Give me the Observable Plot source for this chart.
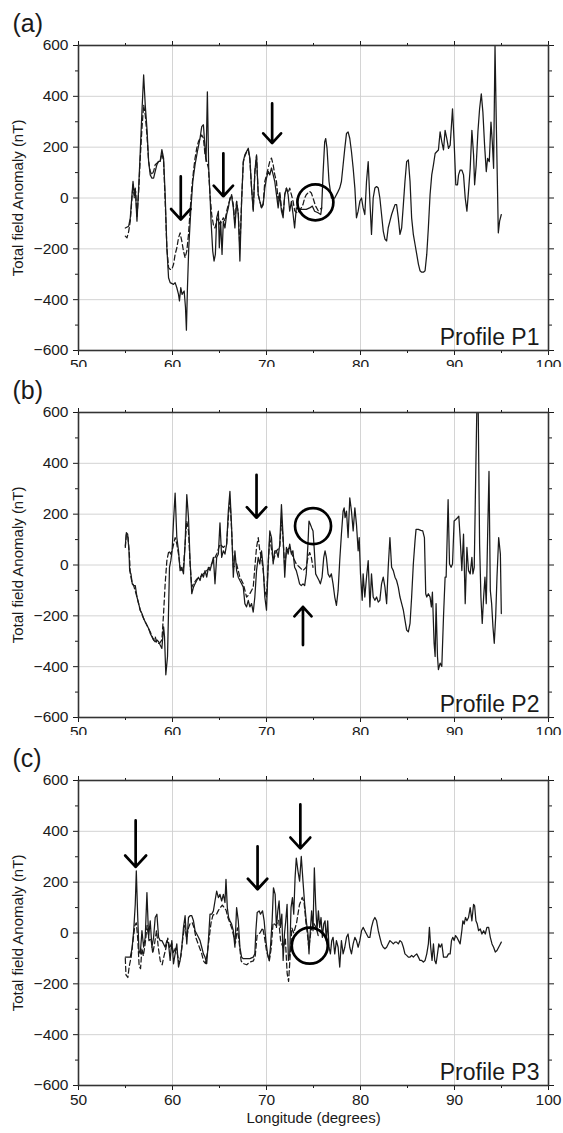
<!DOCTYPE html>
<html>
<head>
<meta charset="utf-8">
<script src="https://cdn.jsdelivr.net/npm/d3@7"></script>
<script src="https://cdn.jsdelivr.net/npm/@observablehq/plot@0.6"></script>
<style>
  html, body { margin: 0; padding: 0; background: #fff; }
  #wrap { position: relative; width: 563px; height: 1133px; overflow: hidden; }
  #wrap svg { position: absolute; left: 0; }
</style>
</head>
<body>
<div id="wrap"></div>
<script>
// ---------- data: [longitude (deg), total field anomaly (nT)] ----------
const p1Solid = [[54.98,-118],[55.34,-111],[55.51,-78],[55.69,13],[55.80,65],[55.94,13],[56.04,39],[56.22,-91],[56.40,39],[56.57,183],[56.75,340],[56.93,484],[57.10,366],[57.28,274],[57.46,144],[57.63,91],[57.81,78],[57.99,78],[58.16,105],[58.34,131],[58.52,144],[58.69,144],[58.87,190],[59.05,157],[59.22,13],[59.40,-196],[59.58,-314],[59.75,-333],[60.11,-340],[60.28,-333],[60.46,-353],[60.64,-379],[60.74,-405],[60.88,-353],[61.02,-379],[61.24,-366],[61.38,-430],[61.48,-520],[61.59,-353],[61.73,-196],[61.94,-52],[62.16,65],[62.40,131],[62.65,183],[62.93,235],[63.11,281],[63.29,288],[63.46,196],[63.57,144],[63.71,418],[63.85,118],[63.99,13],[64.10,-91],[64.28,-209],[64.42,-248],[64.56,-222],[64.70,-78],[64.88,-52],[64.98,-196],[65.12,-91],[65.27,-222],[65.41,-91],[65.58,-118],[65.76,-65],[65.94,-39],[66.11,0],[66.29,7],[66.47,-39],[66.64,-118],[66.82,-13],[67.00,-65],[67.17,-248],[67.35,-13],[67.53,144],[67.70,170],[67.88,183],[68.06,196],[68.23,157],[68.41,39],[68.59,-52],[68.76,105],[68.94,170],[69.12,13],[69.29,-13],[69.47,-39],[69.65,-26],[69.82,39],[70.00,78],[70.18,105],[70.35,91],[70.53,118],[70.71,91],[70.88,65],[71.06,13],[71.24,-39],[71.41,13],[71.59,-52],[71.77,-78],[71.94,13],[72.12,39],[72.30,13],[72.47,-52],[72.65,-13],[72.83,-65],[72.99,-118],[73.17,-39],[73.52,-45],[73.88,-45],[74.23,-45],[74.59,-39],[74.88,-32],[75.12,-52],[75.48,-58],[75.77,-65],[75.87,-39],[76.01,91],[76.19,221],[76.30,234],[76.44,195],[76.65,65],[76.90,0],[77.26,0],[77.62,26],[77.79,39],[77.97,65],[78.15,130],[78.33,195],[78.51,254],[78.68,260],[78.86,234],[79.04,182],[79.22,117],[79.40,39],[79.57,-78],[79.75,-52],[79.93,-13],[80.11,0],[80.28,-39],[80.46,-65],[80.64,65],[80.82,143],[81.00,-13],[81.17,-143],[81.35,0],[81.53,39],[81.71,45],[81.89,39],[82.06,0],[82.24,-65],[82.42,-130],[82.60,-162],[82.78,-169],[82.95,-117],[83.13,-91],[83.31,-65],[83.49,-45],[83.67,-26],[83.84,-26],[84.02,-78],[84.20,-143],[84.38,-117],[84.56,-26],[84.73,65],[84.91,143],[85.09,150],[85.27,65],[85.44,-78],[85.62,-143],[85.80,-182],[85.98,-221],[86.16,-260],[86.33,-286],[86.51,-292],[86.69,-292],[86.87,-286],[87.05,-221],[87.22,-117],[87.40,13],[87.58,91],[87.76,130],[87.94,175],[88.11,182],[88.29,189],[88.47,260],[88.65,221],[88.83,189],[89.00,266],[89.18,234],[89.36,195],[89.54,208],[89.79,351],[89.96,221],[90.14,52],[90.32,52],[90.43,91],[90.60,110],[90.78,110],[90.96,91],[91.14,0],[91.32,-52],[91.49,26],[91.67,117],[91.85,266],[92.03,169],[92.14,52],[92.31,130],[92.49,260],[92.67,351],[92.85,410],[93.02,338],[93.20,208],[93.38,104],[93.52,156],[93.70,143],[93.88,299],[94.02,221],[94.16,117],[94.31,600],[94.45,286],[94.66,-137],[94.80,-91],[94.98,-65]];

const p1Dash = [[54.98,-150],[55.16,-157],[55.34,-131],[55.51,-91],[55.69,0],[55.80,52],[55.94,0],[56.08,26],[56.22,-78],[56.40,26],[56.57,157],[56.75,274],[56.93,366],[57.10,327],[57.28,248],[57.46,144],[57.63,105],[57.81,91],[57.99,105],[58.16,131],[58.34,137],[58.52,144],[58.69,144],[58.87,176],[59.05,144],[59.22,-13],[59.40,-196],[59.58,-274],[59.75,-281],[59.93,-281],[60.11,-261],[60.28,-222],[60.46,-196],[60.64,-157],[60.81,-137],[60.99,-170],[61.17,-209],[61.34,-235],[61.52,-209],[61.70,-144],[61.87,-52],[62.05,39],[62.23,105],[62.40,157],[62.58,196],[62.76,222],[62.93,235],[63.11,248],[63.29,235],[63.46,170],[63.64,144],[63.82,118],[63.99,13],[64.17,-65],[64.35,-105],[64.52,-118],[64.70,-91],[64.88,-78],[65.05,-105],[65.23,-91],[65.41,-78],[65.58,-91],[65.76,-52],[65.94,-26],[66.11,-7],[66.29,13],[66.47,-26],[66.64,-100],[66.82,-13],[67.00,-60],[67.17,-200],[67.35,-13],[67.53,140],[67.70,165],[67.88,180],[68.06,190],[68.23,150],[68.41,39],[68.59,-45],[68.76,100],[68.94,165],[69.12,13],[69.29,-13],[69.47,-39],[69.65,-20],[69.82,65],[70.00,90],[70.18,118],[70.35,144],[70.53,157],[70.71,131],[70.88,91],[71.06,65],[71.24,-13],[71.41,26],[71.59,-39],[71.77,-65],[71.94,13],[72.12,39],[72.30,20],[72.47,39],[72.65,13],[72.83,-13],[73.00,-50],[73.30,-60],[73.70,-39],[73.88,-26],[74.06,0],[74.23,13],[74.41,20],[74.59,26],[74.77,20],[74.95,0],[75.20,-30],[75.50,-50],[75.87,-39]];

const p2Solid = [[54.98,75],[55.09,127],[55.23,121],[55.37,56],[55.44,-22],[55.58,-35],[55.72,-74],[55.87,-81],[56.04,-81],[56.22,-126],[56.40,-152],[56.57,-178],[56.75,-191],[56.93,-211],[57.10,-224],[57.28,-237],[57.46,-250],[57.63,-269],[57.81,-282],[57.99,-295],[58.16,-302],[58.34,-295],[58.52,-302],[58.69,-315],[58.87,-328],[59.05,-243],[59.15,-282],[59.29,-432],[59.47,-360],[59.58,-178],[59.68,-9],[59.82,17],[59.96,56],[60.11,173],[60.28,283],[60.46,108],[60.64,56],[60.81,-22],[60.99,-9],[61.17,-35],[61.34,82],[61.52,277],[61.70,186],[61.87,17],[62.05,-113],[62.23,-87],[62.40,-74],[62.58,-61],[62.76,-48],[62.93,-61],[63.11,-35],[63.29,-48],[63.46,-22],[63.64,-48],[63.82,-9],[63.99,-22],[64.17,4],[64.35,30],[64.52,-74],[64.70,30],[64.88,43],[65.05,166],[65.23,30],[65.41,56],[65.58,43],[65.76,82],[65.94,212],[66.11,290],[66.29,147],[66.47,-48],[66.64,56],[66.82,-22],[67.00,-48],[67.17,-61],[67.35,-74],[67.53,-87],[67.70,-152],[67.88,-165],[68.06,-139],[68.23,-165],[68.41,-152],[68.59,-185],[68.76,-126],[68.94,-22],[69.12,30],[69.29,4],[69.47,56],[69.65,-9],[69.82,-126],[70.00,-178],[70.18,4],[70.35,134],[70.53,108],[70.71,4],[70.88,56],[71.06,56],[71.24,30],[71.41,82],[71.59,238],[71.77,108],[71.94,-48],[72.12,69],[72.30,43],[72.47,82],[72.65,43],[72.81,56],[72.99,-9],[73.17,-22],[73.35,-48],[73.52,-74],[73.70,-81],[73.88,-74],[74.06,-81],[74.23,-35],[74.41,82],[74.52,173],[74.66,160],[74.80,147],[74.95,134],[75.09,56],[75.23,-35],[75.41,-48],[75.59,-61],[75.73,-74],[75.91,-48],[76.09,30],[76.23,56],[76.37,30],[76.55,-35],[76.73,-48],[76.90,-35],[77.08,-74],[77.26,-126],[77.44,-159],[77.62,-100],[77.79,17],[77.97,121],[78.15,212],[78.26,225],[78.36,186],[78.51,212],[78.68,108],[78.86,264],[79.04,212],[79.22,134],[79.40,225],[79.57,160],[79.75,56],[79.86,108],[80.00,-35],[80.18,-139],[80.28,-35],[80.46,-126],[80.64,-48],[80.82,17],[81.00,-165],[81.17,-35],[81.35,-126],[81.53,-139],[81.71,-126],[81.89,-146],[82.06,-139],[82.24,-74],[82.42,-48],[82.60,-87],[82.78,-152],[82.95,-9],[83.13,108],[83.31,-9],[83.49,-22],[83.67,-48],[83.84,-61],[84.02,-87],[84.20,-126],[84.38,-152],[84.56,-178],[84.73,-217],[84.91,-256],[85.09,-263],[85.27,-230],[85.44,-126],[85.62,4],[85.80,95],[85.91,140],[86.16,140],[86.41,136],[86.62,134],[86.80,108],[86.94,-113],[87.05,-126],[87.22,-113],[87.40,-126],[87.54,-165],[87.65,-107],[87.83,-308],[87.94,-360],[88.04,-152],[88.19,-360],[88.29,-412],[88.47,-386],[88.65,-399],[88.83,-204],[89.00,-48],[89.11,-48],[89.22,108],[89.32,257],[89.47,4],[89.64,-9],[89.79,4],[89.96,173],[90.14,179],[90.32,186],[90.46,192],[90.60,108],[90.78,-22],[90.96,121],[91.14,-152],[91.32,69],[91.49,-22],[91.67,-35],[91.85,30],[91.96,-35],[92.10,-9],[92.28,407],[92.38,620],[92.52,620],[92.67,82],[92.81,-126],[92.95,-230],[93.10,-126],[93.24,-48],[93.38,-152],[93.52,108],[93.67,368],[93.81,-100],[93.95,-152],[94.09,-243],[94.23,-308],[94.38,-204],[94.52,-48],[94.70,108],[94.88,43],[94.98,-191]];

const p2Dash = [[54.98,69],[55.09,121],[55.27,108],[55.41,43],[55.51,-35],[55.69,-68],[55.87,-81],[56.22,-126],[56.57,-178],[56.93,-211],[57.28,-237],[57.63,-263],[57.99,-295],[58.16,-282],[58.34,-308],[58.62,-308],[58.87,-295],[59.05,-191],[59.22,-74],[59.40,17],[59.61,56],[59.82,43],[60.04,69],[60.28,108],[60.46,82],[60.64,43],[60.81,-9],[60.99,-22],[61.17,-9],[61.34,82],[61.52,173],[61.70,134],[61.87,4],[62.05,-87],[62.23,-74],[62.58,-55],[62.93,-48],[63.29,-35],[63.64,-22],[63.99,-9],[64.35,17],[64.70,43],[65.05,82],[65.41,69],[65.76,82],[65.94,186],[66.11,264],[66.29,134],[66.47,-9],[66.82,4],[67.17,-48],[67.53,-74],[67.88,-126],[68.23,-113],[68.59,-87],[68.76,-9],[68.94,69],[69.12,108],[69.29,56],[69.47,30],[69.65,-22],[69.82,-100],[70.00,-126],[70.18,4],[70.35,108],[70.71,17],[71.06,56],[71.41,69],[71.59,186],[71.77,95],[71.94,-9],[72.12,56],[72.47,69],[72.83,30],[73.17,4],[73.52,-9],[73.88,-22],[74.23,-9],[74.41,30],[74.59,49],[74.77,30],[74.95,-9]];

const p3Solid = [[54.98,-95],[55.16,-95],[55.51,-95],[55.70,-60],[55.87,9],[56.04,114],[56.15,244],[56.29,74],[56.43,-69],[56.57,-82],[56.75,9],[56.93,-56],[57.10,-17],[57.28,159],[57.46,-17],[57.63,48],[57.81,-56],[57.99,-17],[58.16,61],[58.34,74],[58.52,-17],[58.69,-30],[58.87,-30],[59.05,-43],[59.22,-56],[59.40,-30],[59.58,-43],[59.75,-108],[59.93,-30],[60.11,-121],[60.28,-82],[60.46,-43],[60.64,-134],[60.81,-108],[60.99,-56],[61.17,22],[61.34,68],[61.52,-43],[61.70,61],[61.87,68],[62.05,68],[62.23,48],[62.40,9],[62.58,-4],[62.76,-17],[62.93,-30],[63.11,-56],[63.29,-82],[63.46,-95],[63.64,-121],[63.82,-30],[63.99,74],[64.17,74],[64.35,87],[64.52,126],[64.70,165],[64.88,139],[65.05,152],[65.23,126],[65.41,152],[65.58,120],[65.69,211],[65.83,100],[65.97,61],[66.11,48],[66.29,35],[66.47,9],[66.64,-56],[66.82,100],[67.00,48],[67.17,-56],[67.35,-95],[67.53,-101],[67.88,-101],[68.23,-101],[68.59,-95],[68.76,-82],[68.87,9],[69.01,81],[69.22,87],[69.36,74],[69.58,87],[69.75,48],[69.93,-30],[70.11,-82],[70.28,-108],[70.42,-56],[70.60,48],[70.74,178],[70.92,152],[71.06,22],[71.20,87],[71.34,126],[71.48,22],[71.63,74],[71.77,-108],[71.91,-4],[72.05,48],[72.19,113],[72.33,-108],[72.47,-82],[72.61,100],[72.76,139],[72.90,74],[73.04,217],[73.17,295],[73.35,243],[73.52,204],[73.70,301],[73.88,204],[74.06,113],[74.23,48],[74.41,-4],[74.52,-82],[74.66,9],[74.80,87],[74.95,9],[75.09,256],[75.23,113],[75.37,9],[75.52,87],[75.66,22],[75.80,61],[75.94,-17],[76.09,35],[76.23,48],[76.37,-30],[76.51,48],[76.65,-56],[76.80,-82],[76.94,-30],[77.08,-17],[77.26,-82],[77.44,-30],[77.62,-56],[77.79,-134],[77.97,-30],[78.15,-82],[78.33,-56],[78.51,-17],[78.68,-4],[78.86,-56],[79.04,-82],[79.22,-43],[79.40,-17],[79.57,-30],[79.75,-56],[79.93,-30],[80.11,9],[80.28,22],[80.46,9],[80.64,-4],[80.82,-17],[81.00,-17],[81.17,22],[81.35,48],[81.53,61],[81.71,48],[81.89,9],[82.06,-17],[82.24,-43],[82.42,-56],[82.60,-62],[82.78,-56],[82.95,-43],[83.13,-30],[83.31,-36],[83.49,-43],[83.67,-36],[83.84,-36],[84.02,-43],[84.20,-30],[84.38,-36],[84.56,-56],[84.73,-82],[84.91,-88],[85.09,-95],[85.27,-95],[85.44,-88],[85.62,-95],[85.80,-88],[85.98,-82],[86.16,-95],[86.33,-108],[86.51,-108],[86.69,-114],[86.87,-108],[87.05,-82],[87.22,-43],[87.33,22],[87.47,-56],[87.61,-108],[87.76,-43],[87.90,-108],[88.04,-121],[88.19,-82],[88.33,-43],[88.47,-56],[88.65,-43],[88.83,-95],[89.00,-95],[89.18,-95],[89.36,-82],[89.54,-82],[89.68,-30],[89.82,-17],[89.96,-30],[90.11,-10],[90.25,-17],[90.43,-30],[90.60,-43],[90.78,9],[90.89,48],[91.03,35],[91.17,61],[91.32,48],[91.49,61],[91.67,100],[91.85,48],[92.03,113],[92.14,107],[92.28,48],[92.42,35],[92.56,9],[92.74,16],[92.92,-4],[93.10,9],[93.27,-4],[93.45,22],[93.63,22],[93.81,-17],[93.99,-43],[94.16,-56],[94.34,-75],[94.52,-69],[94.70,-56],[94.88,-43],[94.98,-36]];

const p3Dash = [[54.98,-100],[55.05,-165],[55.25,-175],[55.40,-130],[55.60,-95],[55.80,-30],[56.00,30],[56.15,40],[56.30,-20],[56.45,-130],[56.60,-140],[56.75,-60],[56.90,-90],[57.10,-40],[57.30,30],[57.50,-30],[57.70,-20],[57.90,-80],[58.10,-40],[58.30,10],[58.50,-60],[58.70,-110],[58.90,-125],[59.10,-90],[59.30,-60],[59.50,-20],[59.70,-60],[59.90,-40],[60.10,-80],[60.30,-60],[60.50,-80],[60.70,-120],[60.90,-90],[61.10,-20],[61.30,30],[61.50,-20],[61.70,20],[61.90,40],[62.10,40],[62.30,20],[62.50,-20],[62.70,-40],[62.90,-60],[63.10,-80],[63.30,-110],[63.50,-120],[63.70,-80],[63.90,-20],[64.10,40],[64.30,70],[64.50,75],[64.70,75],[64.90,90],[65.10,100],[65.30,110],[65.50,100],[65.70,90],[65.90,60],[66.10,40],[66.30,20],[66.50,-10],[66.70,-40],[66.90,20],[67.10,-40],[67.30,-110],[67.50,-120],[67.90,-125],[68.20,-115],[68.60,-110],[68.80,-90],[69.00,-10],[69.30,0],[69.60,20],[69.80,-20],[70.00,-70],[70.30,-110],[70.50,-60],[70.70,40],[71.00,30],[71.30,50],[71.50,-30],[71.80,-60],[72.00,-20],[72.20,-160],[72.35,-190],[72.50,-100],[72.70,20],[72.90,0],[73.20,40],[73.50,110],[73.80,140],[74.00,120],[74.20,40],[74.40,-20],[74.50,-60],[74.70,0],[75.00,40],[75.30,20],[75.50,-10]];

// ---------- annotations (arrows: longitude, tail value, head value; circles: centre) ----------
const p1ArrowLon = [60.88, 65.41, 70.60];
const p1ArrowFrom = [85, 176, 372];
const p1ArrowTo = [-85, 7, 216];
const p1Circle = [[75.2, -17]];

const p2ArrowLon = [68.94, 73.88];
const p2ArrowFrom = [355, -315];
const p2ArrowTo = [186, -165];
const p2Circle = [[74.95, 153]];

const p3ArrowLon = [56.08, 69.05, 73.60];
const p3ArrowFrom = [443, 341, 506];
const p3ArrowTo = [260, 172, 333];
const p3Circle = [[74.6, -50]];

// ---------- axes ----------
const xMajor = [50, 60, 70, 80, 90, 100];
const xMinor = [55, 65, 75, 85, 95];
const yMajor = [-600, -400, -200, 0, 200, 400, 600];
const yMinor = [-500, -300, -100, 100, 300, 500];
const xGrid = [60, 70, 80, 90];
const yGrid = [-400, -200, 0, 200, 400];

const panels = [
  {tag: "(a)", name: "Profile P1", solid: p1Solid, dash: p1Dash, aLon: p1ArrowLon, aFrom: p1ArrowFrom, aTo: p1ArrowTo, circ: p1Circle, top: 0},
  {tag: "(b)", name: "Profile P2", solid: p2Solid, dash: p2Dash, aLon: p2ArrowLon, aFrom: p2ArrowFrom, aTo: p2ArrowTo, circ: p2Circle, top: 367},
  {tag: "(c)", name: "Profile P3", solid: p3Solid, dash: p3Dash, aLon: p3ArrowLon, aFrom: p3ArrowFrom, aTo: p3ArrowTo, circ: p3Circle, top: 735}
];

const ink = "#1a1a1a";
const blank = () => "";
const wrap = document.getElementById("wrap");

for (const p of panels) {
  const solid = p.solid.map(([lon, val]) => ({lon, val}));
  const dash = p.dash.map(([lon, val]) => ({lon, val}));
  const arrows = p.aLon.map((lon, i) => ({lon, from: p.aFrom[i], to: p.aTo[i]}));
  const circles = p.circ.map(([lon, val]) => ({lon, val}));

  const svg = Plot.plot({
    width: 563,
    height: 400,
    marginTop: 45,
    marginBottom: 50,
    marginLeft: 78,
    marginRight: 15,
    style: {fontFamily: "'Liberation Sans', Arial, Helvetica, sans-serif", fontSize: "15px", color: ink, background: "#fff"},
    x: {domain: [50, 100]},
    y: {domain: [-600, 600]},
    marks: [
      Plot.gridX(xGrid, {stroke: "#cfcfcf", strokeOpacity: 1, strokeWidth: 0.9}),
      Plot.gridY(yGrid, {stroke: "#cfcfcf", strokeOpacity: 1, strokeWidth: 0.9}),
      Plot.axisX(xMajor, {anchor: "bottom", tickSize: 5, tickPadding: 3, fontSize: 15.5, label: null}),
      Plot.axisX(xMinor, {anchor: "bottom", tickSize: 3, tickFormat: blank, label: null}),
      Plot.axisX(xMajor, {anchor: "top", tickSize: 5, tickFormat: blank, label: null}),
      Plot.axisX(xMinor, {anchor: "top", tickSize: 3, tickFormat: blank, label: null}),
      Plot.axisY(yMajor, {anchor: "left", tickSize: 5, tickPadding: 5, fontSize: 15.5, label: null}),
      Plot.axisY(yMinor, {anchor: "left", tickSize: 3, tickFormat: blank, label: null}),
      Plot.axisY(yMajor, {anchor: "right", tickSize: 5, tickFormat: blank, label: null}),
      Plot.axisY(yMinor, {anchor: "right", tickSize: 3, tickFormat: blank, label: null}),
      Plot.line(dash, {x: "lon", y: "val", stroke: ink, strokeWidth: 1.25, strokeDasharray: "5,3", clip: true}),
      Plot.line(solid, {x: "lon", y: "val", stroke: ink, strokeWidth: 1.25, clip: true}),
      Plot.arrow(arrows, {x1: "lon", y1: "from", x2: "lon", y2: "to", stroke: "#000", strokeWidth: 2.7, headLength: 14, headAngle: 85}),
      Plot.dot(circles, {x: "lon", y: "val", r: 18, stroke: "#000", strokeWidth: 2.7, fill: "none"}),
      Plot.frame({stroke: "#333", strokeWidth: 1.6}),
      Plot.text([p.name], {frameAnchor: "bottom-right", dx: -9, dy: -6, lineAnchor: "bottom", textAnchor: "end", fontSize: 23, fill: ink}),
      Plot.text([p.tag], {frameAnchor: "top-left", dx: -66, dy: -31, textAnchor: "start", fontSize: 25, fill: ink}),
      Plot.text(["Longitude (degrees)"], {frameAnchor: "bottom", dy: 37, textAnchor: "middle", fontSize: 15, fill: ink}),
      Plot.text(["Total field Anomaly (nT)"], {frameAnchor: "left", dx: -60, rotate: -90, textAnchor: "middle", fontSize: 15, fill: ink})
    ]
  });
  svg.style.top = p.top + "px";
  wrap.appendChild(svg);
}
</script>
</body>
</html>
